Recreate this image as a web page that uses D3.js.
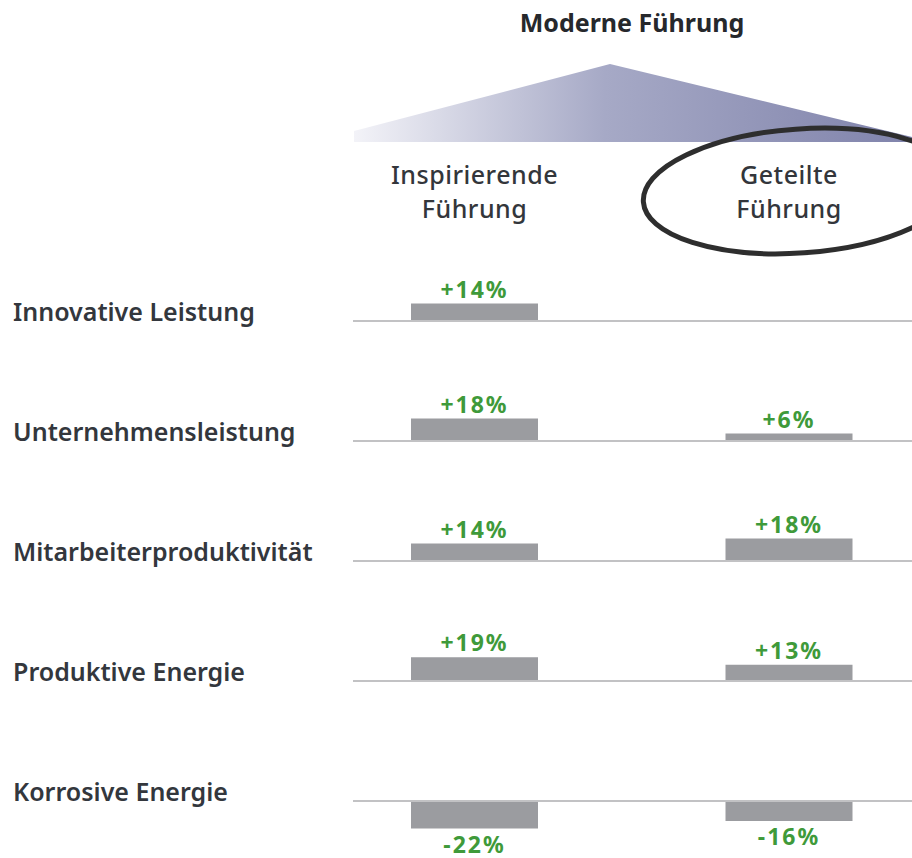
<!DOCTYPE html>
<html>
<head>
<meta charset="utf-8">
<script src="https://cdn.jsdelivr.net/npm/d3@7"></script>
<style>
  html, body { margin: 0; padding: 0; background: #fff; }
  svg { display: block; font-family: "Noto Sans", "Open Sans", sans-serif; }
</style>
</head>
<body>
<div id="chart"></div>
<script>
const rows = ["Innovative Leistung", "Unternehmensleistung", "Mitarbeiterproduktivität", "Produktive Energie", "Korrosive Energie"];
const columns = ["Inspirierende Führung", "Geteilte Führung"];
const headerLines = [["Inspirierende", "Führung"], ["Geteilte", "Führung"]];
const inspirierend = [14, 18, 14, 19, -22];
const geteilt = [null, 6, 18, 13, -16];
const title = "Moderne Führung";

const width = 912, height = 858;

const svg = d3.select("#chart").append("svg")
  .attr("width", width)
  .attr("height", height);

// column centres and row baselines
const x = d3.scalePoint().domain(columns).range([474.5, 789]);
const y = d3.scalePoint().domain(rows).range([321, 801]);
const v = d3.scaleLinear().domain([-20, 20]).range([25, -25]);
const barWidth = 127;

// Title
svg.append("text")
  .attr("x", 632)
  .attr("y", 32)
  .attr("text-anchor", "middle")
  .attr("font-size", "25px")
  .attr("font-weight", "bold")
  .attr("fill", "#26282c")
  .text(title);

// Triangle with gradient
const defs = svg.append("defs");
const grad = defs.append("linearGradient")
  .attr("id", "tri-gradient")
  .attr("x1", "0%").attr("y1", "0%")
  .attr("x2", "100%").attr("y2", "0%");
grad.append("stop").attr("offset", "0%").attr("stop-color", "#f3f3f8");
grad.append("stop").attr("offset", "45%").attr("stop-color", "#a6a9c6");
grad.append("stop").attr("offset", "100%").attr("stop-color", "#8083ab");

svg.append("path")
  .attr("d", "M354,142 L354,131 L610,64 L912,137 L912,142 Z")
  .attr("fill", "url(#tri-gradient)");

// Column headers, one text per line
columns.forEach((c, i) => {
  headerLines[i].forEach((line, j) => {
    svg.append("text")
      .attr("x", x(c))
      .attr("y", 184 + j * 34)
      .attr("text-anchor", "middle")
      .attr("font-size", "25px")
      .attr("font-weight", 500)
      .attr("letter-spacing", "0.5px")
      .attr("fill", "#33363b")
      .text(line);
  });
});

// Ellipse around "Geteilte Führung"
svg.append("ellipse")
  .attr("cx", 0)
  .attr("cy", 0)
  .attr("rx", 157)
  .attr("ry", 62)
  .attr("transform", "translate(800,191) rotate(-4)")
  .attr("fill", "none")
  .attr("stroke", "#2e2e2e")
  .attr("stroke-width", 5);

// Row labels
svg.selectAll(".row-label")
  .data(rows)
  .join("text")
  .attr("class", "row-label")
  .attr("x", 13)
  .attr("y", d => y(d))
  .attr("font-size", "25px")
  .attr("font-weight", 600)
  .attr("fill", "#33373d")
  .text(d => d);

// Bars
const series = [inspirierend, geteilt];
const cells = [];
series.forEach((vals, ci) => {
  vals.forEach((val, ri) => {
    if (val !== null) cells.push({ col: columns[ci], row: rows[ri], value: val });
  });
});

svg.selectAll(".bar")
  .data(cells)
  .join("rect")
  .attr("class", "bar")
  .attr("x", d => x(d.col) - barWidth / 2)
  .attr("y", d => y(d.row) + Math.min(v(d.value), v(0)))
  .attr("width", barWidth)
  .attr("height", d => Math.abs(v(d.value) - v(0)))
  .attr("fill", "#9b9ca0");

// Baselines
svg.selectAll(".baseline")
  .data(rows)
  .join("line")
  .attr("class", "baseline")
  .attr("x1", 353)
  .attr("x2", width)
  .attr("y1", d => y(d))
  .attr("y2", d => y(d))
  .attr("stroke", "#c2c2c4")
  .attr("stroke-width", 2);

// Value labels
svg.selectAll(".value-label")
  .data(cells)
  .join("text")
  .attr("class", "value-label")
  .attr("x", d => x(d.col))
  .attr("y", d => d.value >= 0 ? y(d.row) + v(d.value) - 6 : y(d.row) + v(d.value) + 24)
  .attr("text-anchor", "middle")
  .attr("font-size", "23px")
  .attr("font-weight", "bold")
  .attr("letter-spacing", "2px")
  .attr("fill", "#3f9a3a")
  .text(d => (d.value > 0 ? "+" : "") + d.value + "%");
</script>
</body>
</html>
